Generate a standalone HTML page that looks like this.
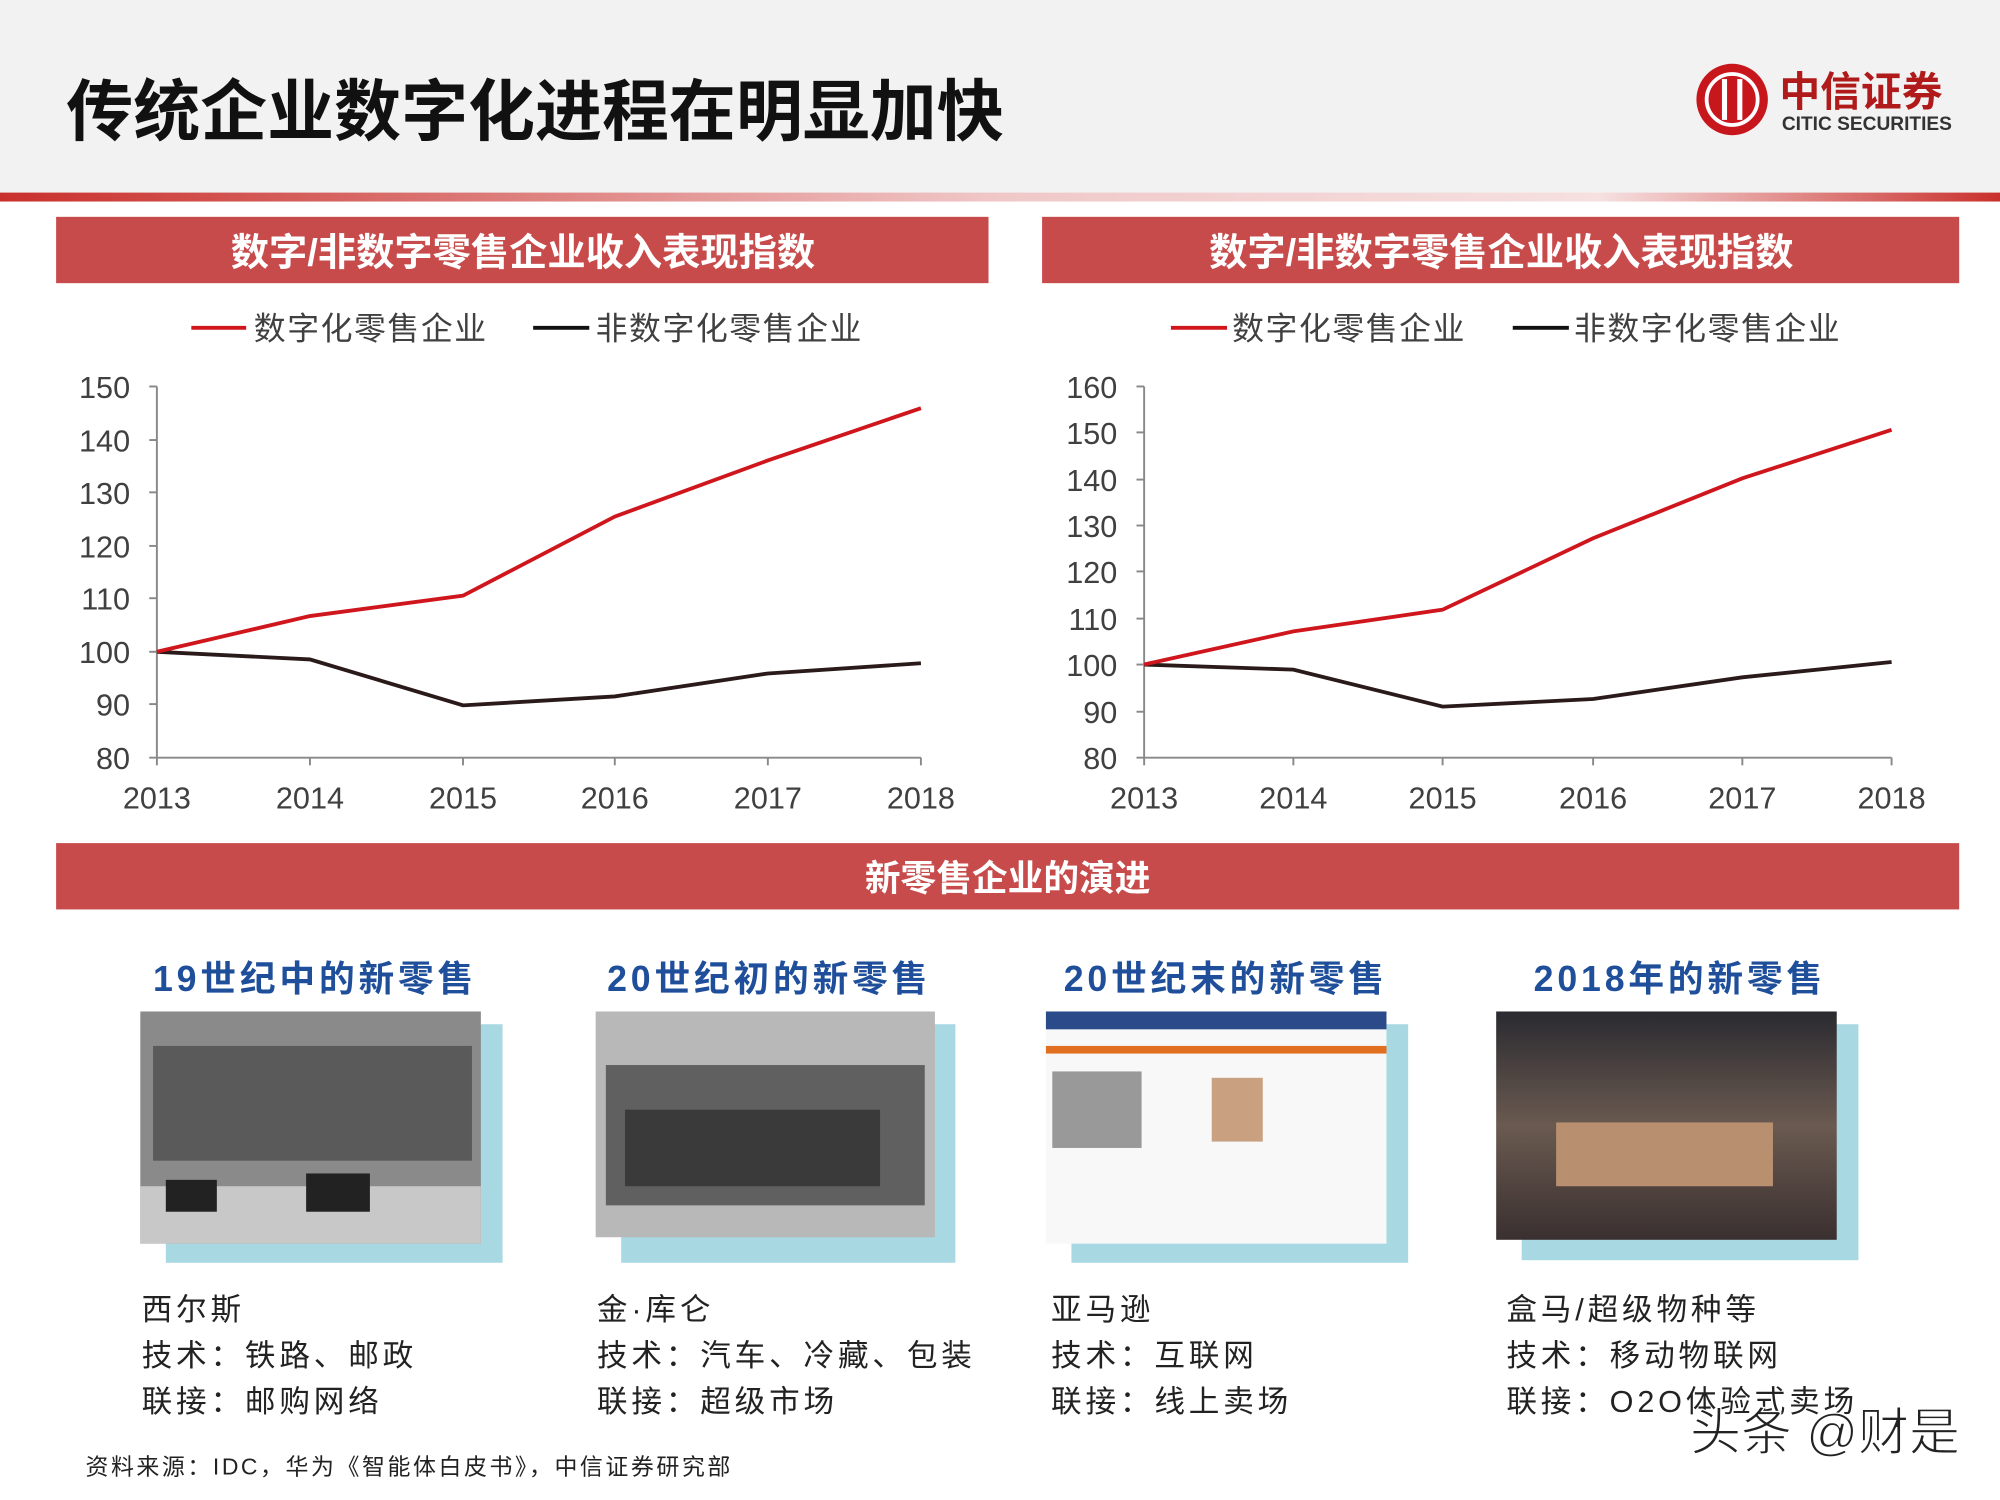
<!DOCTYPE html>
<html><head><meta charset="utf-8"><style>
html,body{margin:0;padding:0;background:#fff;}
svg{display:block;font-family:"Liberation Sans","Noto Sans CJK SC",sans-serif;}
</style></head><body>
<svg width="2000" height="1500" viewBox="0 0 1568 1176" xmlns="http://www.w3.org/2000/svg">
<defs>
<linearGradient id="rl" x1="0" x2="1" y1="0" y2="0">
<stop offset="0" stop-color="#c9302c"/><stop offset="0.5" stop-color="#f0c8c8"/><stop offset="0.8" stop-color="#f6e0e0"/><stop offset="1" stop-color="#c9302c"/>
</linearGradient>
<linearGradient id="ph4" x1="0" x2="0" y1="0" y2="1"><stop offset="0" stop-color="#2a2a30"/><stop offset="0.5" stop-color="#6a5a50"/><stop offset="1" stop-color="#3a3030"/></linearGradient>
</defs>
<rect width="1568" height="1176" fill="#fff"/>
<rect width="1568" height="152" fill="#f2f2f2"/>
<text x="52" y="106" font-size="52.5" font-weight="bold" fill="#111">传统企业数字化进程在明显加快</text>
<circle cx="1358" cy="78" r="28" fill="#c8161d"/>
<circle cx="1358" cy="78" r="20" fill="none" stroke="#fff" stroke-width="3"/>
<rect x="1350" y="62" width="4" height="32" fill="#fff"/><rect x="1362" y="62" width="4" height="32" fill="#fff"/>
<text x="1395" y="83" font-size="32" font-weight="bold" fill="#b01a1a">中信证券</text>
<text x="1397" y="102" font-size="15" font-weight="bold" fill="#333">CITIC SECURITIES</text>
<rect x="0" y="151" width="1568" height="7" fill="url(#rl)"/>

<rect x="44" y="170" width="731" height="52" fill="#c84b4b"/>
<text x="410" y="208" font-size="30" font-weight="bold" fill="#fff" text-anchor="middle">数字/非数字零售企业收入表现指数</text>
<line x1="150" y1="257" x2="193" y2="257" stroke="#d0161d" stroke-width="3"/>
<text x="199" y="266" font-size="25" fill="#404040" letter-spacing="1.2">数字化零售企业</text>
<line x1="418" y1="257" x2="462" y2="257" stroke="#111" stroke-width="3"/>
<text x="467" y="266" font-size="25" fill="#404040" letter-spacing="1.2">非数字化零售企业</text>
<g stroke="#888" stroke-width="1.5">
<line x1="123" y1="303" x2="123" y2="594"/><line x1="123" y1="594" x2="722" y2="594"/>
<line x1="117" y1="303" x2="123" y2="303"/><line x1="117" y1="345" x2="123" y2="345"/><line x1="117" y1="386" x2="123" y2="386"/><line x1="117" y1="428" x2="123" y2="428"/><line x1="117" y1="469" x2="123" y2="469"/><line x1="117" y1="511" x2="123" y2="511"/><line x1="117" y1="552" x2="123" y2="552"/><line x1="117" y1="594" x2="123" y2="594"/>
<line x1="123" y1="594" x2="123" y2="600"/><line x1="243" y1="594" x2="243" y2="600"/><line x1="363" y1="594" x2="363" y2="600"/><line x1="482" y1="594" x2="482" y2="600"/><line x1="602" y1="594" x2="602" y2="600"/><line x1="722" y1="594" x2="722" y2="600"/>
</g>
<g font-size="24" fill="#404040" text-anchor="end">
<text x="102" y="312">150</text><text x="102" y="354">140</text><text x="102" y="395">130</text><text x="102" y="437">120</text><text x="102" y="478">110</text><text x="102" y="520">100</text><text x="102" y="561">90</text><text x="102" y="603">80</text>
</g>
<g font-size="24" fill="#404040" text-anchor="middle">
<text x="123" y="634">2013</text><text x="243" y="634">2014</text><text x="363" y="634">2015</text><text x="482" y="634">2016</text><text x="602" y="634">2017</text><text x="722" y="634">2018</text>
</g>
<polyline points="123,511 243,517 363,553 482,546 602,528 722,520" fill="none" stroke="#2a1a1a" stroke-width="3"/>
<polyline points="123,511 243,483 363,467 482,405 602,361 722,320" fill="none" stroke="#d0161d" stroke-width="3"/>

<rect x="817" y="170" width="719" height="52" fill="#c84b4b"/>
<text x="1177" y="208" font-size="30" font-weight="bold" fill="#fff" text-anchor="middle">数字/非数字零售企业收入表现指数</text>
<line x1="918" y1="257" x2="962" y2="257" stroke="#d0161d" stroke-width="3"/>
<text x="966" y="266" font-size="25" fill="#404040" letter-spacing="1.2">数字化零售企业</text>
<line x1="1186" y1="257" x2="1230" y2="257" stroke="#111" stroke-width="3"/>
<text x="1234" y="266" font-size="25" fill="#404040" letter-spacing="1.2">非数字化零售企业</text>
<g stroke="#888" stroke-width="1.5">
<line x1="897" y1="303" x2="897" y2="594"/><line x1="897" y1="594" x2="1483" y2="594"/>
<line x1="891" y1="303" x2="897" y2="303"/><line x1="891" y1="339" x2="897" y2="339"/><line x1="891" y1="376" x2="897" y2="376"/><line x1="891" y1="412" x2="897" y2="412"/><line x1="891" y1="448" x2="897" y2="448"/><line x1="891" y1="485" x2="897" y2="485"/><line x1="891" y1="521" x2="897" y2="521"/><line x1="891" y1="558" x2="897" y2="558"/><line x1="891" y1="594" x2="897" y2="594"/>
<line x1="897" y1="594" x2="897" y2="600"/><line x1="1014" y1="594" x2="1014" y2="600"/><line x1="1131" y1="594" x2="1131" y2="600"/><line x1="1249" y1="594" x2="1249" y2="600"/><line x1="1366" y1="594" x2="1366" y2="600"/><line x1="1483" y1="594" x2="1483" y2="600"/>
</g>
<g font-size="24" fill="#404040" text-anchor="end">
<text x="876" y="312">160</text><text x="876" y="348">150</text><text x="876" y="385">140</text><text x="876" y="421">130</text><text x="876" y="457">120</text><text x="876" y="494">110</text><text x="876" y="530">100</text><text x="876" y="567">90</text><text x="876" y="603">80</text>
</g>
<g font-size="24" fill="#404040" text-anchor="middle">
<text x="897" y="634">2013</text><text x="1014" y="634">2014</text><text x="1131" y="634">2015</text><text x="1249" y="634">2016</text><text x="1366" y="634">2017</text><text x="1483" y="634">2018</text>
</g>
<polyline points="897,521 1014,525 1131,554 1249,548 1366,531 1483,519" fill="none" stroke="#2a1a1a" stroke-width="3"/>
<polyline points="897,521 1014,495 1131,478 1249,422 1366,375 1483,337" fill="none" stroke="#d0161d" stroke-width="3"/>

<rect x="44" y="661" width="1492" height="52" fill="#c84b4b"/>
<text x="790" y="698" font-size="28" font-weight="bold" fill="#fff" text-anchor="middle">新零售企业的演进</text>

<g font-size="28" font-weight="bold" fill="#1f4e9a" text-anchor="middle" letter-spacing="3">
<text x="247" y="777">19世纪中的新零售</text><text x="603" y="777">20世纪初的新零售</text><text x="961" y="777">20世纪末的新零售</text><text x="1317" y="777">2018年的新零售</text>
</g>
<rect x="130" y="803" width="264" height="187" fill="#a8d8e2"/>
<rect x="110" y="793" width="267" height="182" fill="#8a8a8a"/>
<rect x="120" y="820" width="250" height="90" fill="#5a5a5a"/><rect x="110" y="930" width="267" height="45" fill="#c8c8c8"/>
<rect x="130" y="925" width="40" height="25" fill="#222"/><rect x="240" y="920" width="50" height="30" fill="#222"/>
<rect x="487" y="803" width="262" height="187" fill="#a8d8e2"/>
<rect x="467" y="793" width="266" height="177" fill="#b8b8b8"/>
<rect x="475" y="835" width="250" height="110" fill="#606060"/><rect x="490" y="870" width="200" height="60" fill="#3a3a3a"/>
<rect x="840" y="803" width="264" height="187" fill="#a8d8e2"/>
<rect x="820" y="793" width="267" height="182" fill="#f8f8f8"/>
<rect x="820" y="793" width="267" height="14" fill="#2a4a8a"/><rect x="820" y="820" width="267" height="6" fill="#e07020"/>
<rect x="825" y="840" width="70" height="60" fill="#999"/><rect x="950" y="845" width="40" height="50" fill="#c9a080"/>
<rect x="1193" y="803" width="264" height="185" fill="#a8d8e2"/>
<rect x="1173" y="793" width="267" height="179" fill="url(#ph4)"/>
<rect x="1220" y="880" width="170" height="50" fill="#b89070"/>

<g font-size="24" fill="#222" letter-spacing="3">
<text x="111" y="1035">西尔斯</text><text x="111" y="1071">技术：铁路、邮政</text><text x="111" y="1107">联接：邮购网络</text>
<text x="468" y="1035">金·库仑</text><text x="468" y="1071">技术：汽车、冷藏、包装</text><text x="468" y="1107">联接：超级市场</text>
<text x="824" y="1035">亚马逊</text><text x="824" y="1071">技术：互联网</text><text x="824" y="1107">联接：线上卖场</text>
<text x="1181" y="1035">盒马/超级物种等</text><text x="1181" y="1071">技术：移动物联网</text><text x="1181" y="1107">联接：O2O体验式卖场</text>
</g>
<text x="67" y="1156" font-size="18" fill="#222" letter-spacing="2">资料来源：IDC，华为《智能体白皮书》，中信证券研究部</text>
<text x="1325" y="1137" font-size="40" fill="#222" stroke="#fff" stroke-width="1">头条 @财是</text>
</svg>
</body></html>
